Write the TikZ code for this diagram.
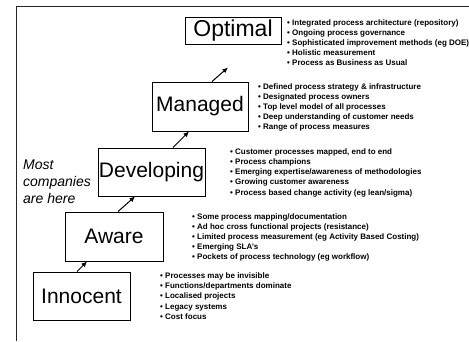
\documentclass[tikz,border=0pt]{standalone}
\usepackage{fontspec}
\setmainfont{Liberation Sans}
\usetikzlibrary{calc,arrows.meta}
\begin{document}
\begin{tikzpicture}[x=1pt,y=-1pt,
  stage/.style={draw=black,line width=1pt,inner sep=0pt,
    font=\fontsize{21}{24}\selectfont},
  points/.style={anchor=north west,inner sep=0pt,align=left,
    font=\fontsize{8}{10}\selectfont\bfseries},
  climb/.style={line width=1pt,-{Latex[length=5.5pt,width=5pt]}}]
\useasboundingbox (0,0) rectangle (469,341);
% open frame along the top and left edges
\draw[line width=1.5pt,black!85] (16.5,341) -- (16.5,6.5) -- (469,6.5);

% maturity stages
\node[stage,minimum width=96pt,minimum height=27pt,font=\fontsize{23}{26}\selectfont] (optimal) at (233,30.5) {Optimal};
\node[stage,minimum width=96pt,minimum height=49pt] (managed) at (200,106.5) {Managed};
\node[stage,minimum width=107pt,minimum height=48pt] (developing) at (151.5,172) {Developing};
\node[stage,minimum width=98pt,minimum height=49pt] (aware) at (114,236.5) {Aware};
\node[stage,minimum width=97pt,minimum height=48pt] (innocent) at (81.5,296) {Innocent};

% steps between stages
\draw[climb] ($(innocent.north)+(-4.5,0)$) -- ($(aware.south)+(-27,0)$);
\draw[climb] ($(aware.north)+(4,0)$) -- ($(developing.south)+(-16.5,0)$);
\draw[climb] ($(developing.north)+(21.5,0)$) -- ($(managed.south)+(-11,0)$);
\coordinate (toptip) at ($(optimal.south)+(-5,23)$);
\draw[climb] ($(managed.north)+(12,0)$) -- (toptip);

% characteristics of each stage
\node[points] (optlist) at (287,19.3) {• Integrated process architecture (repository)\\
• Ongoing process governance\\
• Sophisticated improvement methods (eg DOE)\\
• Holistic measurement\\
• Process as Business as Usual};
\node[points] (manlist) at (258,83.8) {• Defined process strategy \& infrastructure\\
• Designated process owners\\
• Top level model of all processes\\
• Deep understanding of customer needs\\
• Range of process measures};
\node[points] (devlist) at (230,148.8) {• Customer processes mapped, end to end\\
• Process champions\\
• Emerging expertise/awareness of methodologies\\
• Growing customer awareness\\[1pt]
• Process based change activity (eg lean/sigma)};
\node[points] (awalist) at (192,213.8) {• Some process mapping/documentation\\
• Ad hoc cross functional projects (resistance)\\
• Limited process measurement (eg Activity Based Costing)\\
• Emerging SLA’s\\
• Pockets of process technology (eg workflow)};
\node[points,font=\fontsize{8}{10.3}\selectfont\bfseries] (innlist) at (160,272.3) {• Processes may be invisible\\
• Functions/departments dominate\\
• Localised projects\\
• Legacy systems\\
• Cost focus};

% note beside the developing stage
\node[anchor=north west,inner sep=0pt,align=left,
  font=\fontsize{14}{17}\selectfont\itshape] (most) at (23,160) {Most\\companies\\are here};
\end{tikzpicture}
\end{document}
